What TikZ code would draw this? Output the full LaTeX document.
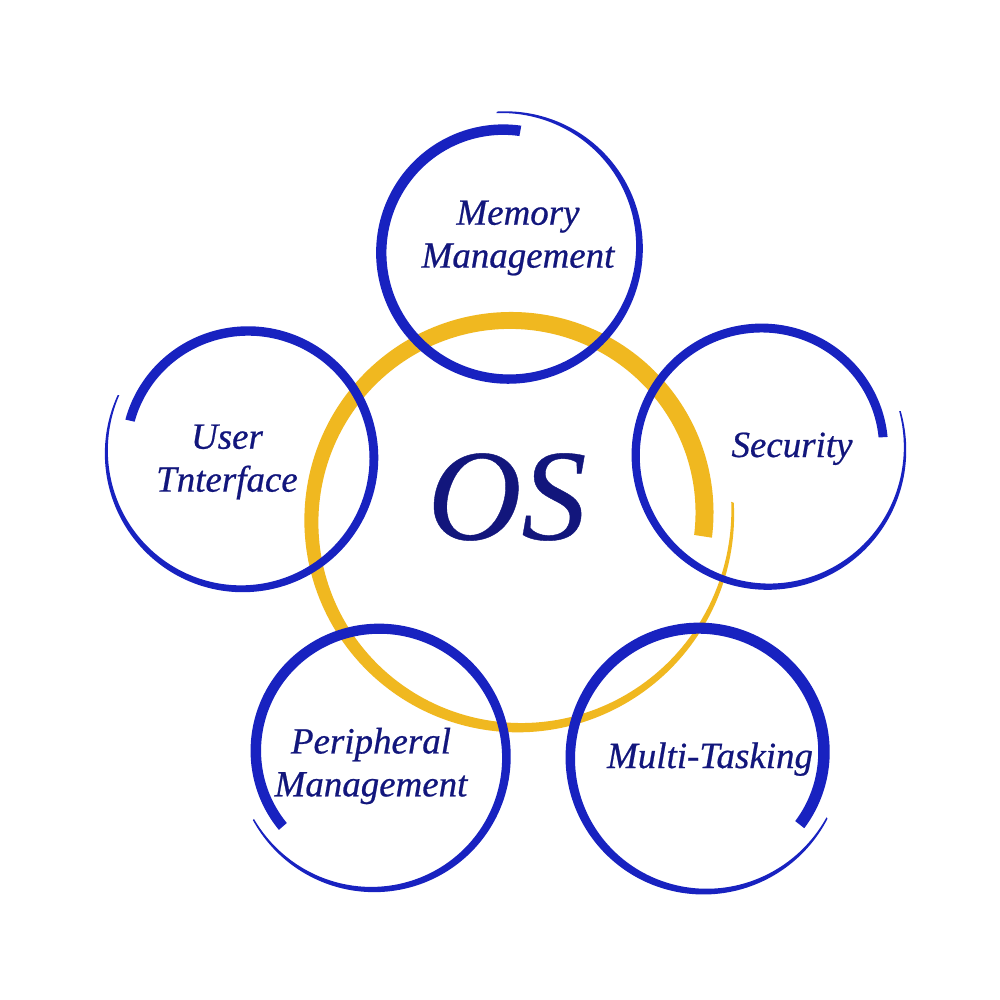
\documentclass[tikz,border=0pt]{standalone}
\usepackage{fontspec}
\setmainfont{Liberation Serif}
\newfontfamily\lblfont{Liberation Serif}[FakeBold=0.6]
\newfontfamily\osfont{Liberation Serif}[FakeBold=0.3]
\definecolor{brushblue}{RGB}{24,34,192}
\definecolor{brushgold}{RGB}{240,184,32}
\definecolor{textnavy}{RGB}{18,22,124}
% width profile (1 at start, 0 at end)
\def\brP{(1-\s*\s*\s)}
% #1 colour, #2 cx, #3 cy, #4 start angle, #5 sweep, #6 r start, #7 r end, #8 width start, #9 width end
\newcommand\brushring[9]{%
  \def\brR{(#6+(#7-#6)*\s)}%
  \def\brW{(((#9)+((#8)-(#9))*\brP)/2)}%
  \def\brA{((#4)+(#5)*\s)}%
  \fill[#1] plot[domain=0:1,samples=240,variable=\s]
      ({#2+(\brR+\brW)*cos(\brA)},{#3+(\brR+\brW)*sin(\brA)})
    -- plot[domain=1:0,samples=240,variable=\s]
      ({#2+(\brR-\brW)*cos(\brA)},{#3+(\brR-\brW)*sin(\brA)})
    -- cycle;}
\begin{document}
\begin{tikzpicture}[x=0.01cm,y=-0.01cm,
  lbl/.style={text=textnavy,font=\lblfont\fontsize{10.5}{12.2}\selectfont\itshape,align=center,inner sep=0pt},
  oslbl/.style={text=textnavy,font=\osfont\fontsize{37}{40}\selectfont\itshape,inner sep=0pt}]
\useasboundingbox (0,0) rectangle (1000,1000);
\fill[white] (0,0) rectangle (1000,1000);
% central ring
\def\brP{(1-\s*\s)}
\brushring{brushgold}{515}{517}{6}{-370}{189}{218}{18}{2.5}
% outer rings
\def\brP{(1-\s*\s*\s)}
\brushring{brushblue}{506}{250}{-83}{-371}{120}{138}{10.5}{1.5}
\brushring{brushblue}{245}{455}{196.5}{369}{120}{140}{9.5}{1.5}
\brushring{brushblue}{765}{452}{-7}{-370}{119}{141}{9}{1.5}
\brushring{brushblue}{376}{754}{142}{370}{118}{139}{10.5}{1.5}
\brushring{brushblue}{702}{755}{35.6}{-369}{120}{140}{11.5}{1.5}
% labels
\node[oslbl] (os) at (507,497) {OS};
\node[lbl] (mem) at (518,238) {Memory\\Management};
\node[lbl] (ui) at (227,462) {User\\Tnterface};
\node[lbl,anchor=base] (sec) at (792,457) {Security};
\node[lbl] (per) at (371,766) {Peripheral\\Management};
\node[lbl,anchor=base] (mt) at (710,768) {Multi-Tasking};
\end{tikzpicture}
\end{document}
